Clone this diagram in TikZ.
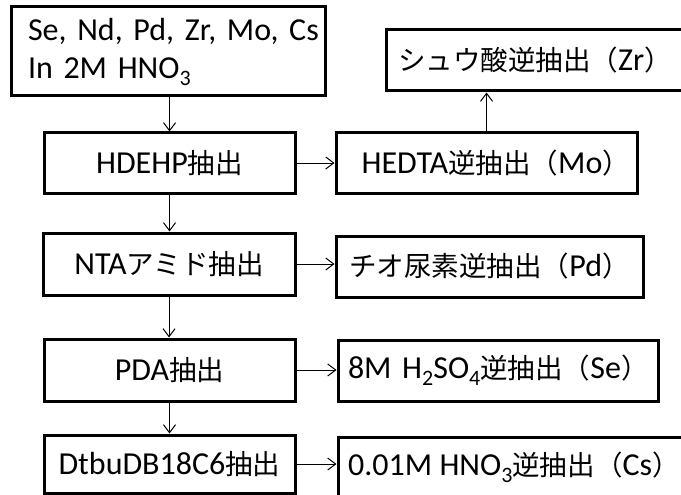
\documentclass[tikz,border=0pt]{standalone}
\usepackage{fontspec}
\setmainfont{Carlito}
\newfontfamily\jp[Scale=0.86]{Noto Sans CJK JP}
\usetikzlibrary{arrows.meta}
\newcommand\mysub[1]{\raisebox{-7pt}{\fontsize{22}{22}\selectfont #1}}
\begin{document}
\begin{tikzpicture}[x=1pt,y=-1pt,
  txt/.style={inner sep=0pt, font=\fontsize{32}{38}\selectfont},
  box/.style={txt, draw, line width=3pt},
  arr/.style={-{Straight Barb[length=8pt,width=12pt]}, line width=1pt}]
\path[use as bounding box] (0,0) rectangle (681,495);
\clip (0,0) rectangle (681,495);
% left column
\node[box, minimum width=314pt, minimum height=89pt, text width=280pt, align=left] (A) at (168,51.5)
  {\mbox{Se, Nd, Pd, Zr, Mo, Cs}\\\mbox{In 2M HNO\mysub{3}}};
\node[box, minimum width=251pt, minimum height=60pt] (B) at (169.5,163) {HDEHP{\jp 抽出}};
\node[box, minimum width=252pt, minimum height=62pt] (C) at (169,264) {NTA{\jp アミド抽出}};
\node[box, minimum width=251pt, minimum height=62pt] (D) at (169.5,370) {PDA{\jp 抽出}};
\node[box, minimum width=251pt, minimum height=58pt] (E) at (169.5,464) {DtbuDB18C6{\jp 抽出}};
% right column
\node[box, minimum width=301pt, minimum height=60pt, text width=287pt, align=right] (F) at (486.5,163)
  {\mbox{HEDTA{\jp 逆抽出（}Mo{\jp ）}}};
\node[box, minimum width=297pt, minimum height=61pt, text width=273pt, align=left] (G) at (534.5,60.5)
  {\mbox{{\jp シュウ酸逆抽出（}Zr{\jp ）}}};
\node[box, minimum width=307pt, minimum height=61pt] (H) at (489.5,266.5)
  {{\jp チオ尿素逆抽出（}Pd{\jp ）}};
\node[box, minimum width=320pt, minimum height=61pt, text width=300pt, align=left] (I) at (498,370.5)
  {\mbox{8M H\mysub{2}SO\mysub{4}{\jp 逆抽出（}Se{\jp ）}}};
% bottom-right box, cut off by the picture's right and bottom edges
\draw[line width=3pt] (684,437) -- (338,437) -- (338,498);
\coordinate (Jin) at (336.5,466);
\node[txt, anchor=west] (J) at (348,467)
  {0.01M HNO\mysub{3}{\jp 逆抽出（}Cs{\jp ）}};
% connectors
\draw[arr] (B.north |- A.south) -- (B.north);
\draw[arr] (B.south) -- (B.south |- C.north);
\draw[arr] (C.south) -- (C.south |- D.north);
\draw[arr] (D.south) -- (D.south |- E.north);
\draw[arr] (B.east) -- (B.east -| F.west);
\draw[arr] (C.east) -- (C.east -| H.west);
\draw[arr] (D.east) -- (D.east -| I.west);
\draw[arr] (E.east) -- (E.east -| Jin);
\draw[arr] (F.north) -- (F.north |- G.south);
\end{tikzpicture}
\end{document}
